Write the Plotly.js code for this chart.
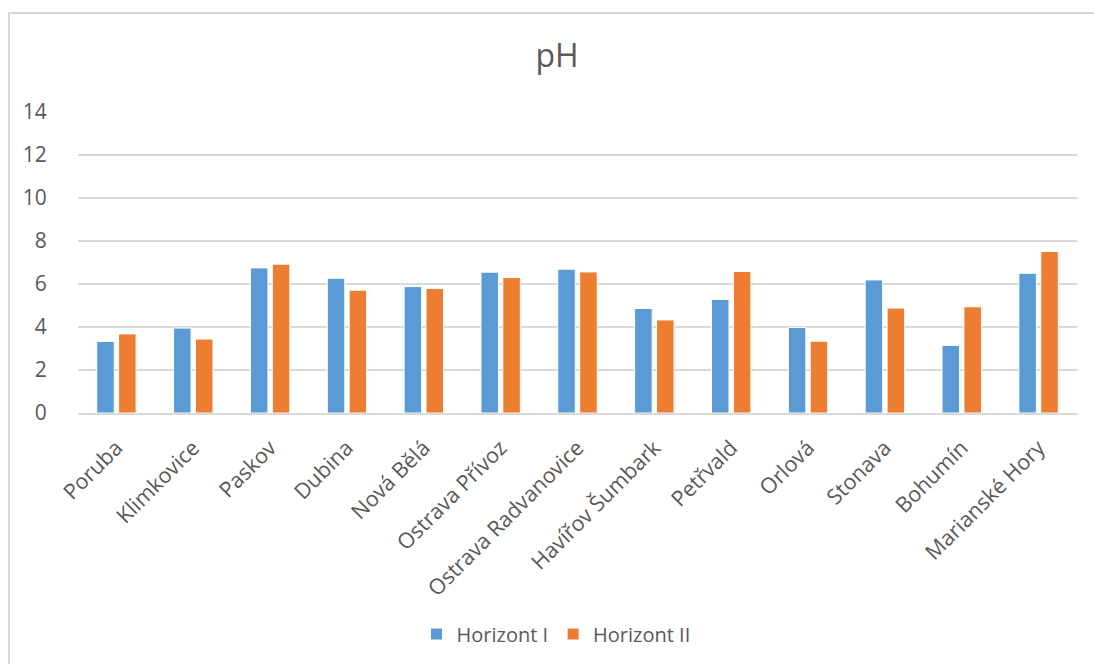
<!DOCTYPE html>
<html>
<head>
<meta charset="utf-8">
<script src="https://cdn.plot.ly/plotly-3.0.1.min.js"></script>
<style>
  html, body { margin: 0; padding: 0; overflow: hidden; background: #ffffff; }
  #frame {
    position: absolute; left: 8px; top: 12px; width: 2000px; height: 2000px;
    border-left: 2px solid #d9d9d9; border-top: 2px solid #d9d9d9;
  }
  #chart { position: absolute; left: 0; top: 0; width: 1094px; height: 664px; }
</style>
</head>
<body>
<div id="frame"></div>
<div id="chart"></div>
<script>
// Sampling sites
const sites = [
  "Poruba", "Klimkovice", "Paskov", "Dubina", "Nová Bělá", "Ostrava Přívoz",
  "Ostrava Radvanovice", "Havířov Šumbark", "Petřvald", "Orlová", "Stonava",
  "Bohumín", "Marianské Hory"
];

// Soil pH per horizon
const horizontI  = [3.33, 3.95, 6.75, 6.27, 5.88, 6.55, 6.69, 4.86, 5.28, 3.98, 6.19, 3.14, 6.50];
const horizontII = [3.68, 3.44, 6.92, 5.71, 5.79, 6.30, 6.56, 4.33, 6.58, 3.34, 4.88, 4.94, 7.51];

const yTicks = [0, 2, 4, 6, 8, 10, 12, 14];

const textColor = "#595959";
const gridColor = "#d9d9d9";
const fontFamily = "'Open Sans', 'Noto Sans', sans-serif";

const traces = [
  {
    type: "bar", name: "Horizont I", x: sites, y: horizontI,
    marker: { color: "#5b9bd5", line: { color: "#ffffff", width: 1 } },
    hoverinfo: "x+y+name"
  },
  {
    type: "bar", name: "Horizont II", x: sites, y: horizontII,
    marker: { color: "#ed7d31", line: { color: "#ffffff", width: 1 } },
    hoverinfo: "x+y+name"
  }
];

const layout = {
  width: 1094, height: 664,
  paper_bgcolor: "rgba(0,0,0,0)",
  plot_bgcolor: "rgba(0,0,0,0)",
  margin: { l: 78, r: 17, t: 112, b: 251, pad: 0 },
  font: { family: fontFamily, color: textColor, size: 20 },
  title: {
    text: "pH",
    font: { family: fontFamily, size: 32, color: textColor },
    xref: "container", x: 557 / 1094, xanchor: "center",
    yref: "container", y: 1 - 56 / 664, yanchor: "middle"
  },
  barmode: "group",
  bargap: 0.43,
  bargroupgap: 0.2,
  xaxis: {
    type: "category",
    tickangle: -45,
    tickfont: { size: 21.5, color: textColor },
    ticks: "outside", ticklen: 12, tickcolor: "rgba(0,0,0,0)",
    showgrid: false,
    showline: true, linecolor: gridColor, linewidth: 1.5,
    fixedrange: true
  },
  yaxis: {
    range: [0, 14],
    tickvals: yTicks,
    ticktext: yTicks.map(String),
    tickfont: { size: 21, color: textColor },
    ticks: "outside", ticklen: 26, tickcolor: "rgba(0,0,0,0)",
    showgrid: true, gridcolor: gridColor, gridwidth: 1.5,
    zeroline: false, showline: false,
    fixedrange: true
  },
  showlegend: true,
  legend: {
    orientation: "h",
    xref: "container", x: 556 / 1094, xanchor: "center",
    yref: "container", y: 1 - 634 / 664, yanchor: "middle",
    font: { size: 20, color: textColor },
    itemclick: false, itemdoubleclick: false
  }
};

Plotly.newPlot("chart", traces, layout, { displayModeBar: false, staticPlot: false });
</script>
</body>
</html>
